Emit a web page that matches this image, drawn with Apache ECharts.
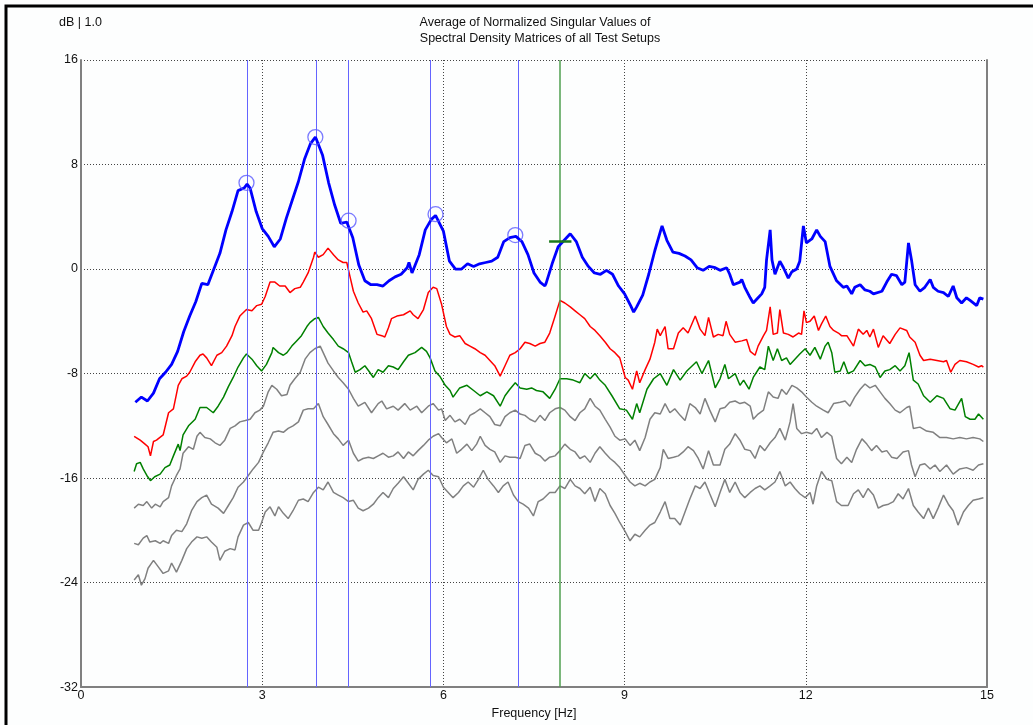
<!DOCTYPE html>
<html>
<head>
<meta charset="utf-8">
<script src="https://cdn.jsdelivr.net/npm/echarts@6/dist/echarts.min.js"></script>
<style>
html,body{margin:0;padding:0;background:#fdfefe;}
#c{width:1033px;height:725px;}
</style>
</head>
<body>
<div id="c"></div>
<script>
// ---------- data ----------
const xTicks = [0, 3, 6, 9, 12, 15];
const yTicks = [-32, -24, -16, -8, 0, 8, 16];

const blueF = [0.9,1.0,1.1,1.2,1.3,1.4,1.5,1.6,1.7,1.8,1.9,2.0,2.1,2.2,2.3,2.4,2.5,2.6,2.7,2.75,2.8,2.9,
  3.0,3.1,3.2,3.3,3.4,3.5,3.6,3.7,3.8,3.88,3.9,4.0,4.1,4.2,4.3,4.4,4.5,4.6,4.7,4.8,4.9,
  5.0,5.1,5.2,5.3,5.4,5.43,5.48,5.5,5.6,5.7,5.8,5.87,5.9,6.0,6.1,6.2,6.3,6.4,6.5,6.6,6.7,6.8,6.9,
  7.0,7.1,7.2,7.3,7.4,7.5,7.6,7.68,7.7,7.8,7.9,8.0,8.1,8.2,8.3,8.4,8.5,8.6,8.7,8.8,8.9,
  9.0,9.1,9.15,9.2,9.3,9.4,9.5,9.6,9.62,9.7,9.8,9.9,10.0,10.1,10.2,10.3,10.4,10.5,
  10.58,10.69,10.74,10.80,10.91,10.94,10.99,11.08,11.13,11.21,11.27,11.32,11.35,11.41,11.44,11.49,11.57,11.63,
  11.71,11.77,11.85,11.90,11.96,12.01,12.10,12.18,12.24,12.32,12.40,12.51,12.62,12.68,12.76,12.81,12.90,12.98,
  13.06,13.12,13.26,13.34,13.42,13.50,13.59,13.64,13.70,13.75,13.81,13.89,13.97,14.06,14.11,14.19,14.28,14.36,
  14.44,14.50,14.58,14.66,14.72,14.83,14.88,14.94];
const blueDb = [-10.2,-9.8,-10.1,-9.5,-8.4,-7.9,-7.3,-6.3,-4.8,-3.6,-2.5,-1.1,-1.2,0.0,1.2,3.0,4.4,6.0,6.2,6.5,6.2,4.4,
  3.1,2.5,1.7,2.3,3.9,5.3,6.7,8.4,9.6,10.1,9.9,8.7,6.6,4.9,3.5,3.6,2.4,0.3,-0.9,-1.2,-1.2,
  -1.3,-0.9,-0.6,-0.4,0.1,0.5,-0.3,-0.3,1.1,3.0,3.8,4.1,4.0,2.9,0.6,0.0,0.0,0.4,0.2,0.4,0.5,0.6,0.9,
  2.1,2.4,2.5,2.1,1.1,-0.3,-1.0,-1.3,-1.1,0.4,1.7,2.2,2.7,2.1,0.9,0.2,-0.3,-0.4,-0.1,-0.4,-1.3,
  -1.9,-2.8,-3.3,-2.9,-2.0,-0.4,1.4,3.0,3.3,2.2,1.3,1.2,1.0,0.7,0.1,-0.1,0.2,0.1,
  -0.1,0.1,-0.4,-1.2,-1.0,-0.8,-1.4,-2.2,-2.6,-2.2,-1.9,-1.4,0.7,3.0,0.7,-0.4,0.6,0.1,
  -0.7,-0.2,0.0,0.6,3.3,2.0,2.3,3.0,2.5,2.1,0.2,-0.9,-1.4,-1.3,-1.9,-1.4,-1.2,-1.6,
  -1.7,-1.9,-1.7,-1.0,-0.4,-0.5,-1.2,-1.0,2.0,0.7,-1.2,-1.7,-1.4,-0.8,-1.4,-1.7,-1.8,-2.1,
  -1.3,-2.2,-2.6,-2.2,-2.4,-2.8,-2.2,-2.3];

const redF = [0.88,0.98,1.06,1.11,1.15,1.20,1.25,1.36,1.45,1.53,1.61,1.67,1.75,1.80,1.89,1.97,2.02,2.08,2.16,2.25,
  2.33,2.41,2.50,2.55,2.63,2.74,2.83,2.91,2.99,3.05,3.13,3.21,3.29,3.38,3.46,3.54,3.63,3.68,3.76,3.85,
  3.87,3.93,4.01,4.09,4.18,4.26,4.34,4.40,4.45,4.51,4.59,4.67,4.73,4.81,4.90,4.98,5.03,5.09,5.14,5.23,
  5.34,5.45,5.50,5.58,5.67,5.75,5.83,5.89,5.97,6.05,6.11,6.19,6.27,6.36,6.44,6.52,6.61,6.69,6.77,6.85,
  6.94,7.02,7.10,7.19,7.27,7.35,7.43,7.52,7.60,7.68,7.76,7.85,7.93,8.01,8.10,8.18,8.26,8.34,8.43,8.51,
  8.59,8.68,8.76,8.84,8.92,9.01,9.06,9.13,9.20,9.25,9.34,9.42,9.50,9.54,9.59,9.67,9.72,9.81,9.89,9.97,
  10.05,10.17,10.25,10.33,10.39,10.47,10.55,10.63,10.68,10.74,10.83,10.94,11.02,11.08,11.16,11.21,11.30,11.35,11.41,11.46,
  11.53,11.57,11.63,11.71,11.79,11.88,11.93,11.97,12.01,12.07,12.14,12.21,12.26,12.33,12.40,12.46,12.54,12.59,12.68,12.79,
  12.87,12.95,13.01,13.06,13.12,13.20,13.28,13.39,13.48,13.56,13.67,13.72,13.81,13.89,13.95,14.06,14.17,14.28,14.33,14.40,
  14.47,14.55,14.66,14.77,14.86,14.91,14.94];
const redDb = [-12.8,-13.1,-13.4,-13.6,-14.3,-13.2,-13.1,-12.7,-11.0,-10.7,-8.9,-8.4,-8.2,-7.9,-7.1,-6.6,-6.5,-6.8,-7.4,-6.6,
  -6.4,-5.9,-5.1,-4.4,-3.6,-3.1,-3.2,-2.8,-2.7,-2.1,-1.0,-1.0,-1.3,-1.3,-1.8,-1.5,-1.4,-1.0,-0.3,0.9,
  1.3,0.9,1.1,1.6,1.1,0.7,0.5,0.5,-0.5,-1.7,-2.6,-3.3,-3.2,-3.8,-5.0,-5.1,-5.2,-4.5,-3.8,-3.6,
  -3.5,-3.2,-3.5,-3.8,-3.1,-1.8,-1.4,-1.5,-2.7,-4.4,-5.0,-5.2,-5.1,-5.7,-5.9,-6.1,-6.4,-6.6,-7.0,-7.4,
  -8.2,-7.4,-6.6,-6.4,-6.1,-5.6,-5.7,-5.9,-5.7,-5.6,-4.9,-3.6,-2.4,-2.6,-2.9,-3.2,-3.5,-3.8,-4.4,-4.7,
  -5.1,-5.6,-6.1,-6.4,-6.8,-8.3,-8.5,-9.2,-7.8,-8.7,-7.7,-6.9,-5.6,-4.6,-5.1,-4.4,-6.1,-6.1,-4.9,-4.5,
  -4.9,-3.6,-4.6,-5.1,-3.7,-5.2,-5.0,-5.1,-4.0,-5.0,-5.6,-5.5,-5.4,-6.3,-6.6,-5.9,-5.1,-4.7,-2.9,-5.0,
  -4.9,-3.1,-4.9,-5.0,-5.2,-4.9,-5.0,-3.2,-4.1,-4.0,-3.6,-4.7,-4.2,-3.6,-4.4,-4.7,-4.9,-5.1,-5.1,-5.9,
  -4.6,-5.0,-4.7,-5.2,-4.6,-6.0,-5.1,-5.7,-5.0,-4.5,-4.7,-5.2,-5.6,-6.6,-7.0,-6.9,-7.0,-7.1,-7.0,-7.9,
  -7.3,-7.0,-7.1,-7.3,-7.5,-7.4,-7.5];

const greenF = [0.88,0.92,0.98,1.03,1.09,1.15,1.22,1.31,1.39,1.47,1.53,1.61,1.64,1.69,1.78,1.89,1.97,2.08,2.19,2.27,
  2.36,2.44,2.52,2.60,2.69,2.74,2.83,2.91,2.99,3.07,3.16,3.18,3.27,3.35,3.41,3.49,3.57,3.65,3.74,3.79,
  3.87,3.93,4.01,4.09,4.18,4.26,4.34,4.43,4.48,4.54,4.62,4.70,4.78,4.84,4.92,5.00,5.09,5.17,5.25,5.34,
  5.42,5.53,5.64,5.72,5.78,5.86,5.94,6.03,6.11,6.16,6.27,6.39,6.50,6.61,6.72,6.83,6.94,7.02,7.10,7.19,
  7.27,7.38,7.46,7.54,7.65,7.76,7.85,7.93,8.04,8.15,8.26,8.34,8.43,8.51,8.59,8.68,8.79,8.92,9.03,9.13,
  9.20,9.25,9.37,9.48,9.59,9.70,9.81,9.92,10.03,10.19,10.28,10.39,10.50,10.58,10.66,10.72,10.83,10.91,10.97,11.06,
  11.13,11.24,11.32,11.38,11.46,11.53,11.60,11.68,11.74,11.82,11.90,11.99,12.07,12.15,12.24,12.32,12.37,12.43,12.48,12.57,
  12.63,12.70,12.79,12.90,12.98,13.06,13.15,13.23,13.31,13.39,13.48,13.56,13.64,13.71,13.78,13.86,13.95,14.06,14.17,14.28,
  14.39,14.47,14.58,14.64,14.72,14.80,14.86,14.94];
const greenDb = [-15.5,-14.9,-14.8,-15.3,-15.8,-16.2,-15.9,-15.7,-15.2,-15.0,-14.3,-13.4,-13.9,-12.7,-12.0,-11.5,-10.6,-10.6,-11.0,-10.5,
  -9.8,-9.0,-8.3,-7.5,-6.8,-6.5,-6.9,-7.4,-7.8,-7.3,-6.4,-6.0,-6.4,-6.6,-6.4,-5.9,-5.5,-5.1,-4.4,-4.1,
  -3.8,-3.7,-4.4,-4.9,-5.4,-5.9,-6.1,-6.4,-7.1,-7.9,-7.7,-7.4,-7.9,-8.3,-7.7,-7.9,-7.4,-7.5,-7.7,-7.1,
  -6.6,-6.4,-6.0,-6.3,-6.8,-7.8,-8.2,-8.9,-9.3,-9.8,-9.1,-8.9,-9.3,-9.7,-9.4,-9.7,-10.5,-9.7,-9.2,-8.7,
  -9.1,-9.2,-9.1,-9.3,-9.4,-9.9,-9.2,-8.4,-8.4,-8.5,-8.7,-8.0,-8.4,-8.0,-8.5,-8.9,-9.7,-10.7,-10.8,-11.5,
  -10.3,-11.0,-9.2,-8.4,-8.0,-8.9,-7.7,-8.5,-7.8,-7.1,-8.0,-7.0,-9.1,-8.4,-7.3,-8.4,-8.0,-8.9,-8.5,-9.2,
  -8.3,-7.5,-7.7,-5.9,-7.0,-6.1,-7.0,-6.8,-7.3,-6.9,-6.5,-6.1,-6.6,-6.0,-6.9,-5.9,-5.6,-6.4,-7.9,-7.8,
  -7.1,-8.0,-7.8,-7.0,-7.4,-7.3,-7.5,-8.3,-7.8,-7.7,-7.4,-7.8,-7.4,-6.4,-8.5,-8.8,-9.7,-10.2,-9.7,-9.9,
  -10.7,-10.8,-9.9,-11.3,-11.5,-11.5,-11.1,-11.5];

const gray1F = [0.88,0.95,1.03,1.09,1.17,1.23,1.31,1.36,1.45,1.50,1.58,1.64,1.69,1.78,1.86,1.92,1.97,2.05,2.14,2.22,
  2.30,2.38,2.47,2.55,2.63,2.72,2.80,2.88,2.96,3.02,3.10,3.16,3.24,3.32,3.41,3.46,3.54,3.63,3.71,3.79,
  3.87,3.96,4.01,4.09,4.18,4.26,4.34,4.43,4.51,4.59,4.70,4.81,4.92,4.98,5.06,5.17,5.25,5.36,5.45,5.56,
  5.64,5.75,5.83,5.92,5.97,6.03,6.11,6.19,6.27,6.36,6.44,6.52,6.61,6.69,6.77,6.85,6.94,7.02,7.10,7.19,
  7.27,7.35,7.43,7.52,7.60,7.68,7.76,7.85,7.93,8.01,8.10,8.18,8.26,8.34,8.43,8.51,8.59,8.68,8.76,8.84,
  8.92,9.01,9.09,9.17,9.25,9.34,9.42,9.50,9.59,9.67,9.75,9.83,9.92,10.00,10.08,10.17,10.25,10.33,10.41,10.50,
  10.58,10.66,10.74,10.83,10.91,10.99,11.08,11.13,11.21,11.30,11.38,11.46,11.54,11.60,11.68,11.77,11.85,11.93,12.01,12.10,
  12.18,12.29,12.37,12.46,12.57,12.65,12.73,12.81,12.90,12.98,13.06,13.15,13.23,13.31,13.39,13.48,13.56,13.67,13.72,13.78,
  13.89,14.00,14.11,14.22,14.33,14.44,14.55,14.66,14.77,14.88,14.94];
const gray1Db = [-18.3,-18.0,-18.1,-17.8,-18.3,-18.0,-18.2,-17.8,-17.5,-16.6,-15.8,-15.3,-14.1,-13.6,-13.8,-12.8,-12.5,-12.9,-13.0,-13.3,
  -13.5,-13.1,-12.2,-12.0,-11.7,-11.6,-11.5,-11.0,-10.8,-10.5,-9.4,-8.9,-9.2,-9.7,-9.6,-8.9,-8.4,-7.9,-6.9,-6.4,
  -6.1,-5.9,-6.4,-7.2,-7.8,-8.3,-8.7,-9.2,-9.9,-10.5,-10.2,-11.0,-10.3,-10.1,-10.7,-10.5,-10.8,-10.3,-10.8,-10.5,
  -11.0,-10.5,-10.3,-10.8,-10.7,-11.6,-11.2,-11.7,-11.5,-11.9,-11.2,-11.0,-10.7,-11.0,-11.3,-11.9,-12.0,-11.3,-11.0,-10.8,
  -11.1,-11.2,-11.5,-11.7,-11.2,-11.6,-11.0,-10.7,-10.6,-10.8,-11.3,-11.6,-11.0,-10.7,-9.9,-10.5,-10.8,-11.5,-12.1,-12.8,
  -13.1,-13.0,-13.5,-13.1,-13.9,-12.9,-11.5,-11.0,-11.1,-10.3,-11.0,-10.7,-11.2,-11.6,-10.3,-10.6,-11.1,-9.9,-10.8,-11.7,
  -10.7,-10.6,-10.2,-10.1,-10.3,-10.2,-10.5,-11.5,-11.1,-10.8,-9.4,-9.8,-9.9,-9.2,-9.6,-8.9,-9.1,-9.4,-9.8,-10.2,
  -10.5,-10.8,-11.0,-10.3,-10.2,-10.1,-10.5,-9.8,-9.2,-8.8,-9.1,-8.9,-9.4,-9.9,-10.3,-10.8,-11.0,-10.6,-10.5,-12.2,
  -12.1,-12.4,-12.5,-12.9,-12.9,-13.0,-12.9,-13.0,-12.9,-13.0,-13.2];

const gray2F = [0.88,0.95,1.03,1.09,1.14,1.23,1.31,1.36,1.45,1.50,1.58,1.67,1.75,1.83,1.92,2.00,2.08,2.16,2.27,2.36,
  2.44,2.52,2.60,2.69,2.77,2.85,2.94,3.02,3.10,3.18,3.27,3.35,3.43,3.51,3.60,3.68,3.76,3.85,3.93,4.01,
  4.09,4.18,4.26,4.34,4.43,4.51,4.59,4.67,4.76,4.84,4.92,5.00,5.09,5.17,5.25,5.34,5.42,5.50,5.58,5.67,
  5.75,5.83,5.92,5.97,6.05,6.14,6.22,6.30,6.39,6.47,6.55,6.61,6.69,6.77,6.85,6.94,7.02,7.10,7.19,7.27,
  7.35,7.43,7.52,7.60,7.68,7.76,7.85,7.93,8.01,8.10,8.18,8.26,8.34,8.43,8.51,8.59,8.68,8.76,8.84,8.92,
  9.01,9.09,9.17,9.25,9.34,9.42,9.50,9.59,9.64,9.72,9.81,9.89,9.97,10.05,10.14,10.22,10.30,10.39,10.47,10.58,
  10.66,10.74,10.83,10.91,10.99,11.08,11.16,11.24,11.32,11.41,11.49,11.57,11.66,11.74,11.79,11.85,11.93,12.01,12.10,12.18,
  12.26,12.35,12.43,12.51,12.59,12.68,12.76,12.84,12.93,13.01,13.09,13.17,13.26,13.34,13.42,13.51,13.61,13.70,13.75,13.81,
  13.89,13.97,14.06,14.14,14.22,14.33,14.44,14.55,14.66,14.77,14.86,14.94];
const gray2Db = [-21.0,-21.1,-20.6,-20.4,-20.9,-20.8,-21.0,-20.8,-21.0,-20.4,-20.0,-20.1,-19.5,-18.5,-17.8,-17.5,-17.3,-18.0,-18.3,-18.7,
  -18.1,-17.5,-16.7,-16.3,-15.8,-15.3,-14.8,-14.0,-13.3,-12.5,-12.4,-12.5,-12.2,-12.0,-11.7,-10.8,-10.7,-10.7,-10.3,-11.3,
  -11.9,-12.6,-13.0,-13.5,-13.1,-14.1,-14.7,-14.5,-14.4,-14.5,-14.3,-14.1,-14.4,-14.3,-14.0,-14.5,-14.0,-14.3,-13.9,-13.5,
  -13.1,-12.8,-12.6,-12.9,-13.3,-13.0,-14.1,-13.8,-13.4,-13.9,-13.4,-12.8,-13.5,-13.8,-14.0,-14.8,-14.3,-14.4,-14.4,-14.5,
  -13.5,-13.4,-14.1,-14.3,-14.7,-14.4,-14.3,-13.9,-13.4,-13.8,-14.0,-14.5,-14.3,-14.8,-14.1,-13.6,-14.1,-14.5,-14.8,-15.2,
  -15.8,-16.3,-16.6,-16.4,-16.6,-16.3,-16.1,-15.2,-13.8,-14.5,-14.4,-14.3,-14.0,-13.6,-13.9,-14.5,-15.3,-13.9,-15.0,-15.0,
  -13.8,-13.4,-12.6,-13.1,-13.8,-13.9,-14.5,-13.5,-13.9,-13.3,-12.9,-12.2,-13.1,-11.7,-10.3,-12.2,-12.6,-12.5,-12.6,-12.2,
  -12.9,-12.5,-12.8,-14.5,-14.9,-14.4,-14.8,-13.8,-13.0,-13.4,-13.9,-13.5,-14.0,-13.9,-14.4,-14.5,-14.0,-13.9,-15.0,-15.9,
  -15.0,-14.9,-15.3,-15.0,-15.5,-15.0,-15.7,-15.3,-15.2,-15.4,-15.0,-14.9];

const gray3F = [0.88,0.95,1.00,1.06,1.11,1.20,1.28,1.36,1.45,1.50,1.58,1.67,1.75,1.83,1.92,2.00,2.08,2.16,2.25,2.30,
  2.38,2.47,2.55,2.60,2.69,2.77,2.85,2.94,2.99,3.05,3.13,3.21,3.27,3.35,3.43,3.51,3.60,3.68,3.76,3.85,
  3.93,4.01,4.09,4.18,4.26,4.34,4.43,4.51,4.59,4.67,4.76,4.84,4.92,5.00,5.09,5.17,5.25,5.34,5.42,5.50,
  5.58,5.67,5.75,5.83,5.92,6.00,6.08,6.16,6.25,6.33,6.41,6.50,6.58,6.66,6.74,6.83,6.91,6.99,7.07,7.16,
  7.24,7.32,7.41,7.49,7.57,7.65,7.76,7.85,7.93,8.01,8.10,8.18,8.26,8.34,8.43,8.51,8.59,8.68,8.76,8.84,
  8.92,9.01,9.09,9.17,9.25,9.34,9.42,9.50,9.59,9.67,9.75,9.83,9.92,10.00,10.08,10.17,10.25,10.33,10.41,10.50,
  10.58,10.66,10.74,10.83,10.91,10.99,11.08,11.16,11.24,11.32,11.41,11.49,11.57,11.66,11.74,11.82,11.90,11.99,12.07,12.12,
  12.18,12.26,12.35,12.43,12.51,12.59,12.70,12.79,12.87,12.95,13.03,13.12,13.20,13.28,13.37,13.45,13.53,13.61,13.70,13.78,
  13.86,13.95,14.03,14.11,14.19,14.28,14.36,14.44,14.52,14.61,14.69,14.77,14.86,14.94];
const gray3Db = [-23.8,-23.4,-24.2,-23.7,-22.9,-22.3,-22.8,-23.3,-23.1,-22.5,-23.2,-22.3,-21.4,-20.9,-20.5,-20.6,-20.5,-20.9,-21.3,-22.3,
  -21.6,-21.4,-21.5,-20.5,-19.6,-19.4,-20.0,-20.0,-19.4,-18.6,-18.2,-18.9,-18.2,-18.7,-19.1,-18.5,-17.7,-17.6,-17.8,-17.1,
  -16.7,-16.9,-16.3,-17.1,-17.3,-17.5,-17.8,-17.7,-18.3,-18.5,-18.3,-18.0,-17.5,-17.1,-17.5,-16.8,-16.4,-15.9,-16.4,-16.9,
  -16.1,-15.7,-15.4,-15.8,-15.9,-16.7,-17.1,-17.5,-17.1,-16.6,-16.3,-16.7,-16.1,-15.4,-16.1,-16.6,-17.1,-16.6,-16.3,-17.3,
  -17.8,-18.0,-18.3,-18.9,-17.8,-17.6,-17.1,-17.1,-16.6,-16.8,-16.1,-16.6,-16.8,-17.2,-16.7,-17.8,-16.8,-17.2,-18.1,-18.7,
  -19.4,-20.1,-20.8,-20.3,-20.5,-20.0,-19.6,-19.4,-18.6,-17.8,-19.1,-19.1,-19.6,-18.6,-17.6,-16.6,-16.8,-16.3,-17.2,-18.2,
  -17.1,-16.1,-17.1,-16.3,-17.1,-17.5,-17.1,-16.8,-16.6,-16.9,-16.6,-16.3,-15.5,-16.6,-16.3,-16.8,-17.2,-17.5,-17.1,-18.0,
  -16.6,-15.5,-16.1,-16.2,-17.8,-18.1,-18.1,-17.2,-16.9,-17.5,-16.8,-17.3,-18.3,-18.1,-18.0,-17.8,-17.2,-17.6,-16.8,-18.1,
  -18.6,-19.1,-18.3,-19.1,-18.3,-17.3,-18.0,-18.5,-19.6,-18.6,-18.1,-17.7,-17.6,-17.5];

// identified modes (peak picking) and marker
const modeF = [2.75, 3.89, 4.42, 5.79, 7.24];
const modePeakF = [2.74, 3.88, 4.43, 5.87, 7.19];
const modePeakDb = [6.6, 10.1, 3.7, 4.2, 2.6];
const greenModeF = 7.93;
const greenMarkF = [7.75, 8.12];
const greenMarkDb = 2.1;

// ---------- chart ----------
const zip = (f, v) => f.map((x, i) => [x, v[i]]);
const chart = echarts.init(document.getElementById('c'), null, {renderer: 'canvas'});
const FONT = '"Liberation Sans", Arial, sans-serif';
const FS = 12.5;
const lineSeries = (name, f, v, color, w, z) => ({
  name, type: 'line', data: zip(f, v), showSymbol: false, symbol: 'none',
  lineStyle: {color, width: w}, itemStyle: {color}, z, silent: true, animation: false
});

const option = {
  backgroundColor: '#fdfefe',
  animation: false,
  grid: {left: 81, top: 60, width: 906, height: 629, containLabel: false},
  xAxis: {
    type: 'value', min: xTicks[0], max: xTicks[xTicks.length - 1], interval: 3,
    name: 'Frequency [Hz]', nameLocation: 'middle', nameGap: 17,
    nameTextStyle: {fontFamily: FONT, fontSize: FS, color: '#111'},
    axisLine: {show: true, onZero: false, lineStyle: {color: '#808080', width: 2}},
    axisTick: {show: false},
    axisLabel: {fontFamily: FONT, fontSize: FS, color: '#111', margin: 2},
    splitLine: {show: true, lineStyle: {color: '#444', width: 1, type: [1, 2]}}
  },
  yAxis: [{
    type: 'value', min: yTicks[0], max: yTicks[yTicks.length - 1], interval: 8,
    axisLine: {show: true, onZero: false, lineStyle: {color: '#808080', width: 2}},
    axisTick: {show: false},
    axisLabel: {fontFamily: FONT, fontSize: FS, color: '#111', margin: 3},
    splitLine: {show: true, lineStyle: {color: '#444', width: 1, type: [1, 2]}}
  }, {
    type: 'value', position: 'right', min: -32, max: 16, interval: 8,
    axisLine: {show: true, onZero: false, lineStyle: {color: '#808080', width: 2}},
    axisTick: {show: false}, axisLabel: {show: false}, splitLine: {show: false}
  }],
  graphic: [
    {type: 'rect', shape: {x: 6, y: 6, width: 1200, height: 900}, style: {fill: 'none', stroke: '#000', lineWidth: 3}, silent: true},
    {type: 'text', x: 535, y: 23, style: {text: 'Average of Normalized Singular Values of', font: FS + 'px ' + FONT, fill: '#111', textAlign: 'center', textVerticalAlign: 'middle'}},
    {type: 'text', x: 540, y: 39, style: {text: 'Spectral Density Matrices of all Test Setups', font: FS + 'px ' + FONT, fill: '#111', textAlign: 'center', textVerticalAlign: 'middle'}},
    {type: 'text', x: 59, y: 23, style: {text: 'dB | 1.0', font: FS + 'px ' + FONT, fill: '#111', textAlign: 'left', textVerticalAlign: 'middle'}}
  ],
  series: [
    {
      type: 'line', data: [], silent: true, z: 1,
      markLine: {
        silent: true, symbol: 'none', label: {show: false}, animation: false,
        lineStyle: {color: '#6464ff', width: 1, type: 'solid'},
        data: modeF.map(f => ({xAxis: f}))
      }
    },
    {
      type: 'line', data: [], silent: true, z: 1,
      markLine: {
        silent: true, symbol: 'none', label: {show: false}, animation: false,
        lineStyle: {color: '#4f9f4f', width: 1.5, type: 'solid'},
        data: [{xAxis: greenModeF}]
      }
    },
    lineSeries('sv6', gray3F, gray3Db, '#808080', 1.5, 2),
    lineSeries('sv5', gray2F, gray2Db, '#808080', 1.5, 2),
    lineSeries('sv4', gray1F, gray1Db, '#808080', 1.5, 2),
    lineSeries('sv3', greenF, greenDb, '#008000', 1.5, 3),
    lineSeries('sv2', redF, redDb, '#ff0000', 1.5, 4),
    lineSeries('sv1', blueF, blueDb, '#0000ff', 2.8, 5),
    {
      type: 'scatter', z: 6, silent: true,
      data: modePeakF.map((f, i) => [f, modePeakDb[i]]),
      symbol: 'circle', symbolSize: 15,
      itemStyle: {color: 'rgba(0,0,0,0)', borderColor: '#5a5aff', borderWidth: 1.3}
    },
    {
      type: 'line', z: 7, silent: true, symbol: 'none',
      data: greenMarkF.map(f => [f, greenMarkDb]),
      lineStyle: {color: '#1a7a1a', width: 2.5}
    }
  ]
};
chart.setOption(option);
</script>
</body>
</html>
